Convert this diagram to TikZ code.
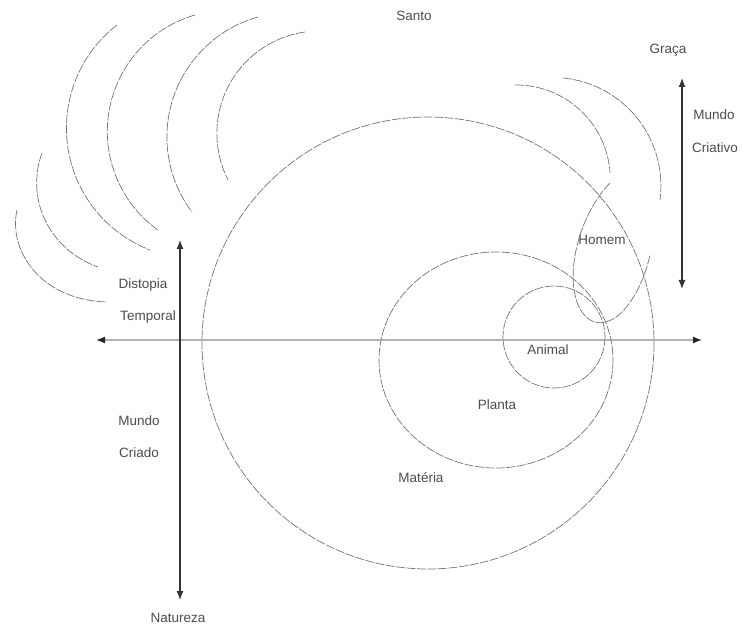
\documentclass[tikz,border=0pt]{standalone}
\usepackage{fontspec}
\setmainfont{Liberation Sans}
\usetikzlibrary{arrows.meta}
\begin{document}
\begin{tikzpicture}[x=1pt,y=-1pt,
  curve/.style={draw=black!55, line width=0.7pt, dash pattern=on 9pt off 1.5pt},
  lbl/.style={text=black!70, font=\fontsize{13.5}{15}\selectfont, inner sep=1pt},
  axis/.style={draw=black!30, line width=1.3pt, {Latex[length=9pt,width=7pt,black!85]}-{Latex[length=9pt,width=7pt,black!85]}},
  varrow/.style={draw=black!80, line width=1.2pt, {Latex[length=9pt,width=7pt]}-{Latex[length=9pt,width=7pt]}}]
\useasboundingbox (0,0) rectangle (742,628);
% axes
\coordinate (hl) at (96,340);
\coordinate (hr) at (702,340);
\coordinate (vt) at (180,240);
\coordinate (vb) at (180,600);
\coordinate (rt) at (682,78);
\coordinate (rb) at (682,289);
\draw[axis] (hl) -- (hr);
\draw[varrow] (vt) -- (vb);
\draw[varrow] (rt) -- (rb);
% circles
\draw[curve] (428,343) circle[radius=226];
\draw[curve] (496,360) ellipse[x radius=117, y radius=108];
\draw[curve] (554,337) circle[radius=51];
% Homem loop
\draw[curve] (610,183) .. controls (572,222) and (560,300) .. (590,320)
  .. controls (612,333) and (640,300) .. (650,255);
% right top arcs
\draw[curve] (515,85) arc[start angle=269.3, end angle=356.3, radius=94.1];
\draw[curve] (563,78) arc[start angle=275.5, end angle=367.5, radius=108.3];
% top-left arcs
\draw[curve] (117,25) arc[start angle=232.2, end angle=111.1, radius=130.6];
\draw[curve] (195,15) arc[start angle=253.9, end angle=125.7, radius=121.3];
\draw[curve] (258,17) arc[start angle=254.4, end angle=143.0, radius=124.6];
\draw[curve] (305,32) arc[start angle=262.0, end angle=152.9, radius=102.4];
\draw[curve] (42,153) .. controls (25,200) and (50,250) .. (98,267);
\draw[curve] (17,210) .. controls (8,250) and (40,300) .. (107,302);
% labels
\node[lbl] (santo) at (414,16) {Santo};
\node[lbl] (graca) at (668,50) {Graça};
\node[lbl] (mcr1) at (714,115) {Mundo};
\node[lbl] (mcr2) at (715,148) {Criativo};
\node[lbl] (homem) at (602,240) {Homem};
\node[lbl] (animal) at (548,350) {Animal};
\node[lbl] (planta) at (497,405) {Planta};
\node[lbl] (materia) at (421,478) {Matéria};
\node[lbl] (dist) at (143,285) {Distopia};
\node[lbl] (temp) at (148,317) {Temporal};
\node[lbl] (mc1) at (139,421) {Mundo};
\node[lbl] (mc2) at (139,453) {Criado};
\node[lbl] (nat) at (178,618) {Natureza};
\end{tikzpicture}
\end{document}
